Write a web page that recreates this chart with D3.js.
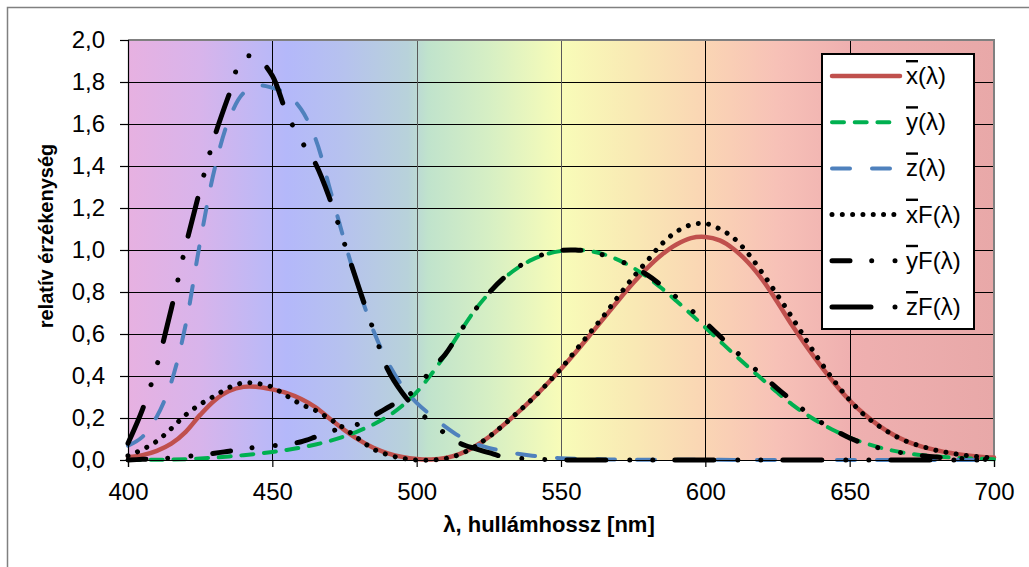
<!DOCTYPE html>
<html>
<head>
<meta charset="utf-8">
<script src="https://cdn.jsdelivr.net/npm/d3@7/dist/d3.min.js"></script>
<style>
  body { margin: 0; background: #fff; }
  svg { display: block; font-family: "Liberation Sans", Arial, sans-serif; }
  .tick text { font-size: 24px; fill: #000; }
</style>
</head>
<body>
<svg id="chart" width="1029" height="567"></svg>
<script>
// wavelengths, 5 nm steps
const lambda = d3.range(400, 701, 5);

// CIE colour matching functions
const xBar = [0.0143,0.0232,0.0435,0.0776,0.1344,0.2148,0.2839,0.3285,0.3483,0.3481,0.3362,0.3187,0.2908,0.2511,0.1954,0.1421,0.0956,0.0580,0.0320,0.0147,0.0049,0.0024,0.0093,0.0291,0.0633,0.1096,0.1655,0.2257,0.2904,0.3597,0.4334,0.5121,0.5945,0.6784,0.7621,0.8425,0.9163,0.9786,1.0263,1.0567,1.0622,1.0456,1.0026,0.9384,0.8544,0.7514,0.6424,0.5419,0.4479,0.3608,0.2835,0.2187,0.1649,0.1212,0.0874,0.0636,0.0468,0.0329,0.0227,0.0158,0.0114];
const yBar = [0.0004,0.0006,0.0012,0.0022,0.0040,0.0073,0.0116,0.0168,0.0230,0.0298,0.0380,0.0480,0.0600,0.0739,0.0910,0.1126,0.1390,0.1693,0.2080,0.2586,0.3230,0.4073,0.5030,0.6082,0.7100,0.7932,0.8620,0.9149,0.9540,0.9803,0.9950,1.0000,0.9950,0.9786,0.9520,0.9154,0.8700,0.8163,0.7570,0.6949,0.6310,0.5668,0.5030,0.4412,0.3810,0.3210,0.2650,0.2170,0.1750,0.1382,0.1070,0.0816,0.0610,0.0446,0.0320,0.0232,0.0170,0.0119,0.0082,0.0057,0.0041];
const zBar = [0.0679,0.1102,0.2074,0.3713,0.6456,1.0391,1.3856,1.6230,1.7471,1.7826,1.7721,1.7441,1.6692,1.5281,1.2876,1.0419,0.8130,0.6162,0.4652,0.3533,0.2720,0.2123,0.1582,0.1117,0.0782,0.0573,0.0422,0.0298,0.0203,0.0134,0.0088,0.0058,0.0039,0.0028,0.0021,0.0018,0.0017,0.0014,0.0011,0.0010,0.0008,0.0006,0.0003,0.0002,0.0002,0.0001,0,0,0,0,0,0,0,0,0,0,0,0,0,0,0];

// fitted functions
const xF = [0.020,0.050,0.090,0.150,0.215,0.265,0.305,0.345,0.367,0.364,0.347,0.305,0.265,0.236,0.195,0.150,0.100,0.052,0.025,0.008,0.000,0.000,0.007,0.027,0.063,0.110,0.166,0.227,0.290,0.360,0.435,0.520,0.605,0.690,0.782,0.870,0.950,1.030,1.087,1.120,1.126,1.100,1.055,0.980,0.886,0.785,0.680,0.570,0.465,0.370,0.285,0.215,0.163,0.120,0.087,0.065,0.046,0.033,0.022,0.015,0.010];
const yF = [0.000,0.003,0.006,0.010,0.016,0.024,0.032,0.042,0.052,0.062,0.068,0.075,0.087,0.110,0.135,0.155,0.172,0.210,0.250,0.290,0.340,0.430,0.505,0.610,0.710,0.795,0.865,0.918,0.957,0.984,0.998,1.000,0.993,0.975,0.950,0.920,0.880,0.830,0.775,0.715,0.655,0.590,0.525,0.460,0.400,0.340,0.283,0.228,0.180,0.140,0.105,0.078,0.058,0.042,0.030,0.021,0.014,0.009,0.006,0.003,0.002];
const zF = [0.080,0.240,0.450,0.720,1.020,1.290,1.540,1.740,1.920,1.910,1.830,1.650,1.520,1.410,1.240,1.030,0.820,0.620,0.430,0.320,0.240,0.180,0.125,0.080,0.055,0.035,0.015,0.008,0.004,0.002,0.001,0,0,0,0,0,0,0,0,0,0,0,0,0,0,0,0,0,0,0,0,0,0,0,0,0,0,0,0,0,0];

const xTicks = [400, 450, 500, 550, 600, 650, 700];
const yTicks = [0, 0.2, 0.4, 0.6, 0.8, 1.0, 1.2, 1.4, 1.6, 1.8, 2.0];

// background spectrum
const bgStops = [[400,"#e7b1e1"],[425,"#d8b4eb"],[445,"#bfb8f5"],[455,"#b4b8fa"],[475,"#b6c2ee"],[497,"#b8d2da"],[504,"#c0e3cc"],[525,"#d6efc4"],[550,"#f8fcb8"],[575,"#f9e9b4"],[600,"#fad5b4"],[625,"#f7c1b7"],[650,"#efb0b0"],[700,"#e8a8a8"]];

const series = [
  { name: "x", suffix: "(λ)", values: xBar, color: "#c0504d", width: 4.5, dash: null },
  { name: "y", suffix: "(λ)", values: yBar, color: "#00b050", width: 4, dash: "12,10.7" },
  { name: "z", suffix: "(λ)", values: zBar, color: "#4f81bd", width: 4, dash: "18,22" },
  { name: "x", suffix: "F(λ)", values: xF, color: "#000", width: 5, dash: "0.01,10.3" },
  { name: "y", suffix: "F(λ)", values: yF, color: "#000", width: 5, dash: "18,21.7,0.01,23.3,0.01,22" },
  { name: "z", suffix: "F(λ)", values: zF, color: "#000", width: 5, dash: "39,24,0.01,23,0.01,22" }
];

const svg = d3.select("#chart");
const x = d3.scaleLinear().domain([400, 700]).range([128, 994]);
const y = d3.scaleLinear().domain([0, 2]).range([460, 40]);
const comma = v => d3.format(".1f")(v).replace(".", ",");

// outer frame
svg.append("rect").attr("x", 7.5).attr("y", 7.5).attr("width", 1040).attr("height", 600)
  .attr("fill", "#fff").attr("stroke", "#808080").attr("stroke-width", 1.5);

const grad = svg.append("defs").append("linearGradient").attr("id", "spec")
  .attr("x1", "0%").attr("x2", "100%").attr("y1", "0%").attr("y2", "0%");
grad.selectAll("stop").data(bgStops).join("stop")
  .attr("offset", d => ((d[0] - 400) / 300 * 100) + "%")
  .attr("stop-color", d => d[1]);

svg.append("rect").attr("x", x(400)).attr("y", y(2)).attr("width", x(700) - x(400)).attr("height", y(0) - y(2))
  .attr("fill", "url(#spec)");

// grid
svg.append("g").selectAll("line").data(yTicks.slice(1, -1)).join("line")
  .attr("x1", x(400)).attr("x2", x(700)).attr("y1", d => y(d) + 0.5).attr("y2", d => y(d) + 0.5)
  .attr("stroke", "#000").attr("stroke-width", 1);
svg.append("g").selectAll("line").data(xTicks.slice(1, -1)).join("line")
  .attr("x1", d => Math.round(x(d)) + 0.5).attr("x2", d => Math.round(x(d)) + 0.5)
  .attr("y1", y(2)).attr("y2", y(0))
  .attr("stroke", d => (d === 500 || d === 550) ? "#5a5a5a" : "#000").attr("stroke-width", 1);

// plot frame top/right
svg.append("path").attr("d", `M${x(400)},${y(2)}H${x(700)}V${y(0)}`)
  .attr("fill", "none").attr("stroke", "#808080").attr("stroke-width", 2);

// curves
const line = d3.line().x((d, i) => x(lambda[i])).y(d => y(d)).curve(d3.curveCatmullRom.alpha(0.5));
svg.append("g").selectAll("path").data(series).join("path")
  .attr("d", d => line(d.values))
  .attr("fill", "none")
  .attr("stroke", d => d.color)
  .attr("stroke-width", d => d.width)
  .attr("stroke-linecap", "round")
  .attr("stroke-linejoin", "round")
  .attr("stroke-dasharray", d => d.dash);

// axes
const yAxis = svg.append("g").attr("transform", `translate(${x(400)},0)`)
  .call(d3.axisLeft(y).tickValues(yTicks).tickFormat(comma).tickSize(8).tickPadding(15));
const xAxis = svg.append("g").attr("transform", `translate(0,${y(0)})`)
  .call(d3.axisBottom(x).tickValues(xTicks).tickFormat(d3.format("d")).tickSize(7).tickPadding(16));
[yAxis, xAxis].forEach(a => {
  a.select(".domain").attr("stroke", "#000").attr("stroke-width", 1.2);
  a.selectAll(".tick line").attr("stroke", "#000").attr("stroke-width", 1.2);
  a.selectAll(".tick text").attr("font-family", "'Liberation Sans', Arial, sans-serif").attr("font-size", 24);
});

// axis titles
svg.append("text").attr("x", 549).attr("y", 532).attr("text-anchor", "middle")
  .attr("font-size", 22).attr("font-weight", "bold").text("λ, hullámhossz [nm]");
svg.append("text").attr("transform", "translate(53,236) rotate(-90)").attr("text-anchor", "middle")
  .attr("font-size", 20).attr("font-weight", "bold").text("relatív érzékenység");

// legend
const lg = svg.append("g");
lg.append("rect").attr("x", 822).attr("y", 54).attr("width", 152).attr("height", 275)
  .attr("fill", "#fff").attr("stroke", "#000").attr("stroke-width", 2);
const rows = lg.selectAll("g.row").data(series).join("g").attr("class", "row")
  .attr("transform", (d, i) => `translate(0,${76 + i * 46.2})`);
rows.append("line").attr("x1", 832).attr("x2", 900).attr("y1", 0).attr("y2", 0)
  .attr("stroke", d => d.color).attr("stroke-width", d => d.width)
  .attr("stroke-linecap", "round").attr("stroke-dasharray", d => d.dash);
const lt = rows.append("text").attr("x", 906).attr("y", 8).attr("font-size", 24);
lt.append("tspan").attr("text-decoration", "overline").text(d => d.name);
lt.append("tspan").text(d => d.suffix);
</script>
</body>
</html>
